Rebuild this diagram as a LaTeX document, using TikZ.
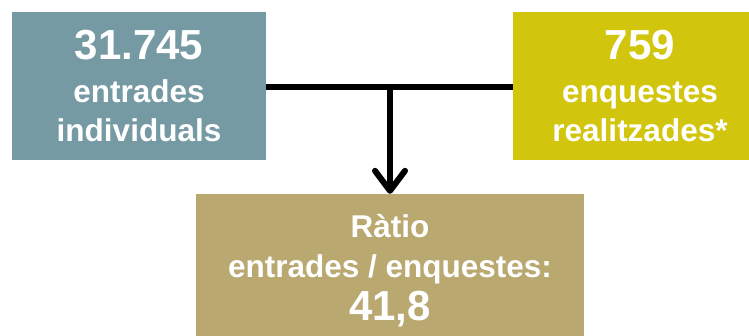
\documentclass[tikz,border=0pt]{standalone}
\usepackage{fontspec}
\setmainfont{Liberation Sans}
\usetikzlibrary{arrows.meta}
\definecolor{boxblue}{HTML}{769AA4}
\definecolor{boxyellow}{HTML}{D2C50E}
\definecolor{boxtan}{HTML}{B9A86F}
\tikzset{
  box/.style={draw=none, inner sep=0pt, minimum width=#1},
  big/.style={anchor=base, text=white, font=\bfseries\fontsize{42}{46}\selectfont, inner sep=0pt},
  small/.style={anchor=base, text=white, font=\bfseries\fontsize{31.5}{36}\selectfont, inner sep=0pt},
  conn/.style={line width=6pt, black}
}
\begin{document}
\begin{tikzpicture}[x=1pt,y=-1pt]
\clip (0,0) rectangle (749,336);
\fill[white] (0,0) rectangle (749,336);
\node[box=254pt, fill=boxblue, minimum height=148pt] (L) at (139,86) {};
\node[box=254pt, fill=boxyellow, minimum height=148pt] (R) at (640,86) {};
\node[box=388pt, fill=boxtan, minimum height=148pt] (B) at (390,268) {};
\node[big] (l1) at (139,60) {31.745};
\node[small] (l2) at (139,103) {entrades};
\node[small] (l3) at (139,142) {individuals};
\node[big] (r1) at (640,60) {759};
\node[small] (r2) at (640,103) {enquestes};
\node[small] (r3) at (640,142) {realitzades*};
\node[small] (b1) at (390,238) {Ràtio};
\node[small] (b2) at (390,278) {entrades / enquestes:};
\node[big] (b3) at (390,320) {41,8};
\coordinate (j) at (390,87);
\draw[conn] (L.east |- j) -- (R.west |- j);
\draw[conn, -{Straight Barb[length=20pt, width=30pt, round]}] (j) -- (B.north);
\end{tikzpicture}
\end{document}
